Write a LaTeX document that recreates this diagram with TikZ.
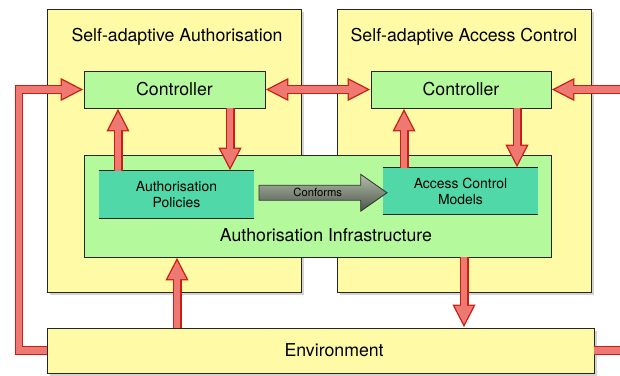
\documentclass[tikz,border=0pt]{standalone}
\usepackage{fontspec}
\setmainfont{TeX Gyre Heros}
\usepackage{tikz}
\usetikzlibrary{positioning}
\usetikzlibrary{calc}
\usetikzlibrary{shapes.arrows}
\usetikzlibrary{arrows.meta}
\usetikzlibrary{shadows}
\definecolor{boxyellow}{RGB}{255,250,165}
\definecolor{boxgreen}{RGB}{180,249,155}
\definecolor{boxteal}{RGB}{80,216,168}
\definecolor{arrowfill}{RGB}{238,120,114}
\definecolor{arrowline}{RGB}{200,30,20}
\definecolor{conftop}{RGB}{180,190,170}
\definecolor{confbottom}{RGB}{75,85,75}
\tikzstyle{area}=[rectangle,draw=black!85,line width=0.6pt,fill=boxyellow,drop shadow={opacity=0.35,shadow xshift=0.07cm,shadow yshift=-0.07cm}]
\tikzstyle{ctrl}=[rectangle,draw=black!85,line width=0.6pt,fill=boxgreen,font=\fontsize{12.6}{15}\selectfont]
\tikzstyle{model}=[rectangle,fill=boxteal,align=center,font=\fontsize{9.9}{11.4}\selectfont,append after command={(\tikzlastnode.north west) edge[draw=black!85,line width=0.6pt] (\tikzlastnode.north east) (\tikzlastnode.south west) edge[draw=black!85,line width=0.6pt] (\tikzlastnode.south east)}]
\tikzstyle{bigtext}=[font=\fontsize{12.6}{15}\selectfont]
\tikzstyle{flow}=[draw=arrowfill,line width=4.6pt,line join=miter,shorten >=2.1pt,-{Triangle[length=13.4pt,width=12.4pt]},preaction={draw=arrowline,line width=6.4pt,shorten >=0pt,-{Triangle[length=16.4pt,width=15.2pt]}}]
\tikzstyle{flowboth}=[draw=arrowfill,line width=4.6pt,shorten >=2.1pt,shorten <=2.1pt,{Triangle[length=13.4pt,width=12.4pt]}-{Triangle[length=13.4pt,width=12.4pt]},preaction={draw=arrowline,line width=6.4pt,shorten >=0pt,shorten <=0pt,{Triangle[length=16.4pt,width=15.2pt]}-{Triangle[length=16.4pt,width=15.2pt]}}]

\begin{document}
\begin{tikzpicture}
	\useasboundingbox (0,0) rectangle (15.5,9.375);
	
	\node [area, minimum width=6.35cm, minimum height=7.0625cm] (saa) at (4.35,5.606) {};
	\node [area, minimum width=6.35cm, minimum height=7.0625cm] (saac) at (11.6,5.606) {};
	\node [bigtext] (saatitle) at (4.425,8.45) {Self-adaptive Authorisation};
	\node [bigtext] (saactitle) at (11.6,8.45) {Self-adaptive Access Control};
	
	\node [ctrl, minimum width=11.675cm, minimum height=2.55cm] (infra) at (7.9375,4.225) {};
	\node [bigtext] (infralabel) at (8.15,3.5) {Authorisation Infrastructure};
	
	\node [ctrl, minimum width=4.525cm, minimum height=0.925cm] (ctrl1) at (4.3625,7.1375) {Controller};
	\node [ctrl, minimum width=4.5cm, minimum height=0.925cm] (ctrl2) at (11.525,7.1375) {Controller};
	
	\node [model, minimum width=3.875cm, minimum height=1.175cm] (pol) at (4.4125,4.5125) {Authorisation\\Policies};
	\node [model, minimum width=3.875cm, minimum height=1.15cm] (acm) at (11.5125,4.6) {Access Control\\Models};
	
	\node [single arrow, draw=black!80, line width=0.6pt, shading=axis, top color=conftop, bottom color=confbottom,
		minimum height=3.2cm, single arrow head extend=7.8pt, single arrow tip angle=70, inner ysep=2pt, text height=6pt, text depth=0pt,
		font=\fontsize{8}{9}\selectfont] (conf) at ($(pol.east)!0.5!(acm.west)+(-0.02,0)$) {Conforms};
	
	\node [area, minimum width=13.675cm, minimum height=1.125cm] (env) at (8.0125,0.6125) {};
	\node [bigtext] (envlabel) at ($(env.center)+(0.34,0)$) {Environment};
	
	% loops through the environment
	\coordinate (lcorner) at (0.475,7.1375);
	\coordinate (rcorner) at (15.95,7.1375);
	\draw[flow] (env.west) -| (lcorner) -- (ctrl1.west);
	\draw[flow] (env.east) -| (rcorner) -- (ctrl2.east);
	\draw[flowboth] (ctrl1.east) -- (ctrl2.west);
	
	% columns of the vertical arrows
	\coordinate (c1) at (2.95,0);
	\coordinate (c2) at (5.75,0);
	\coordinate (c3) at (10.1,0);
	\coordinate (c4) at (12.925,0);
	\coordinate (c5) at (4.425,0);
	\coordinate (c6) at (11.6,0);
	\draw[flow] (pol.north -| c1) -- (ctrl1.south -| c1);
	\draw[flow] (ctrl1.south -| c2) -- (pol.north -| c2);
	\draw[flow] (acm.north -| c3) -- (ctrl2.south -| c3);
	\draw[flow] (ctrl2.south -| c4) -- (acm.north -| c4);
	\draw[flow] (env.north -| c5) -- (infra.south -| c5);
	\draw[flow] (infra.south -| c6) -- (env.north -| c6);
\end{tikzpicture}
\end{document}
